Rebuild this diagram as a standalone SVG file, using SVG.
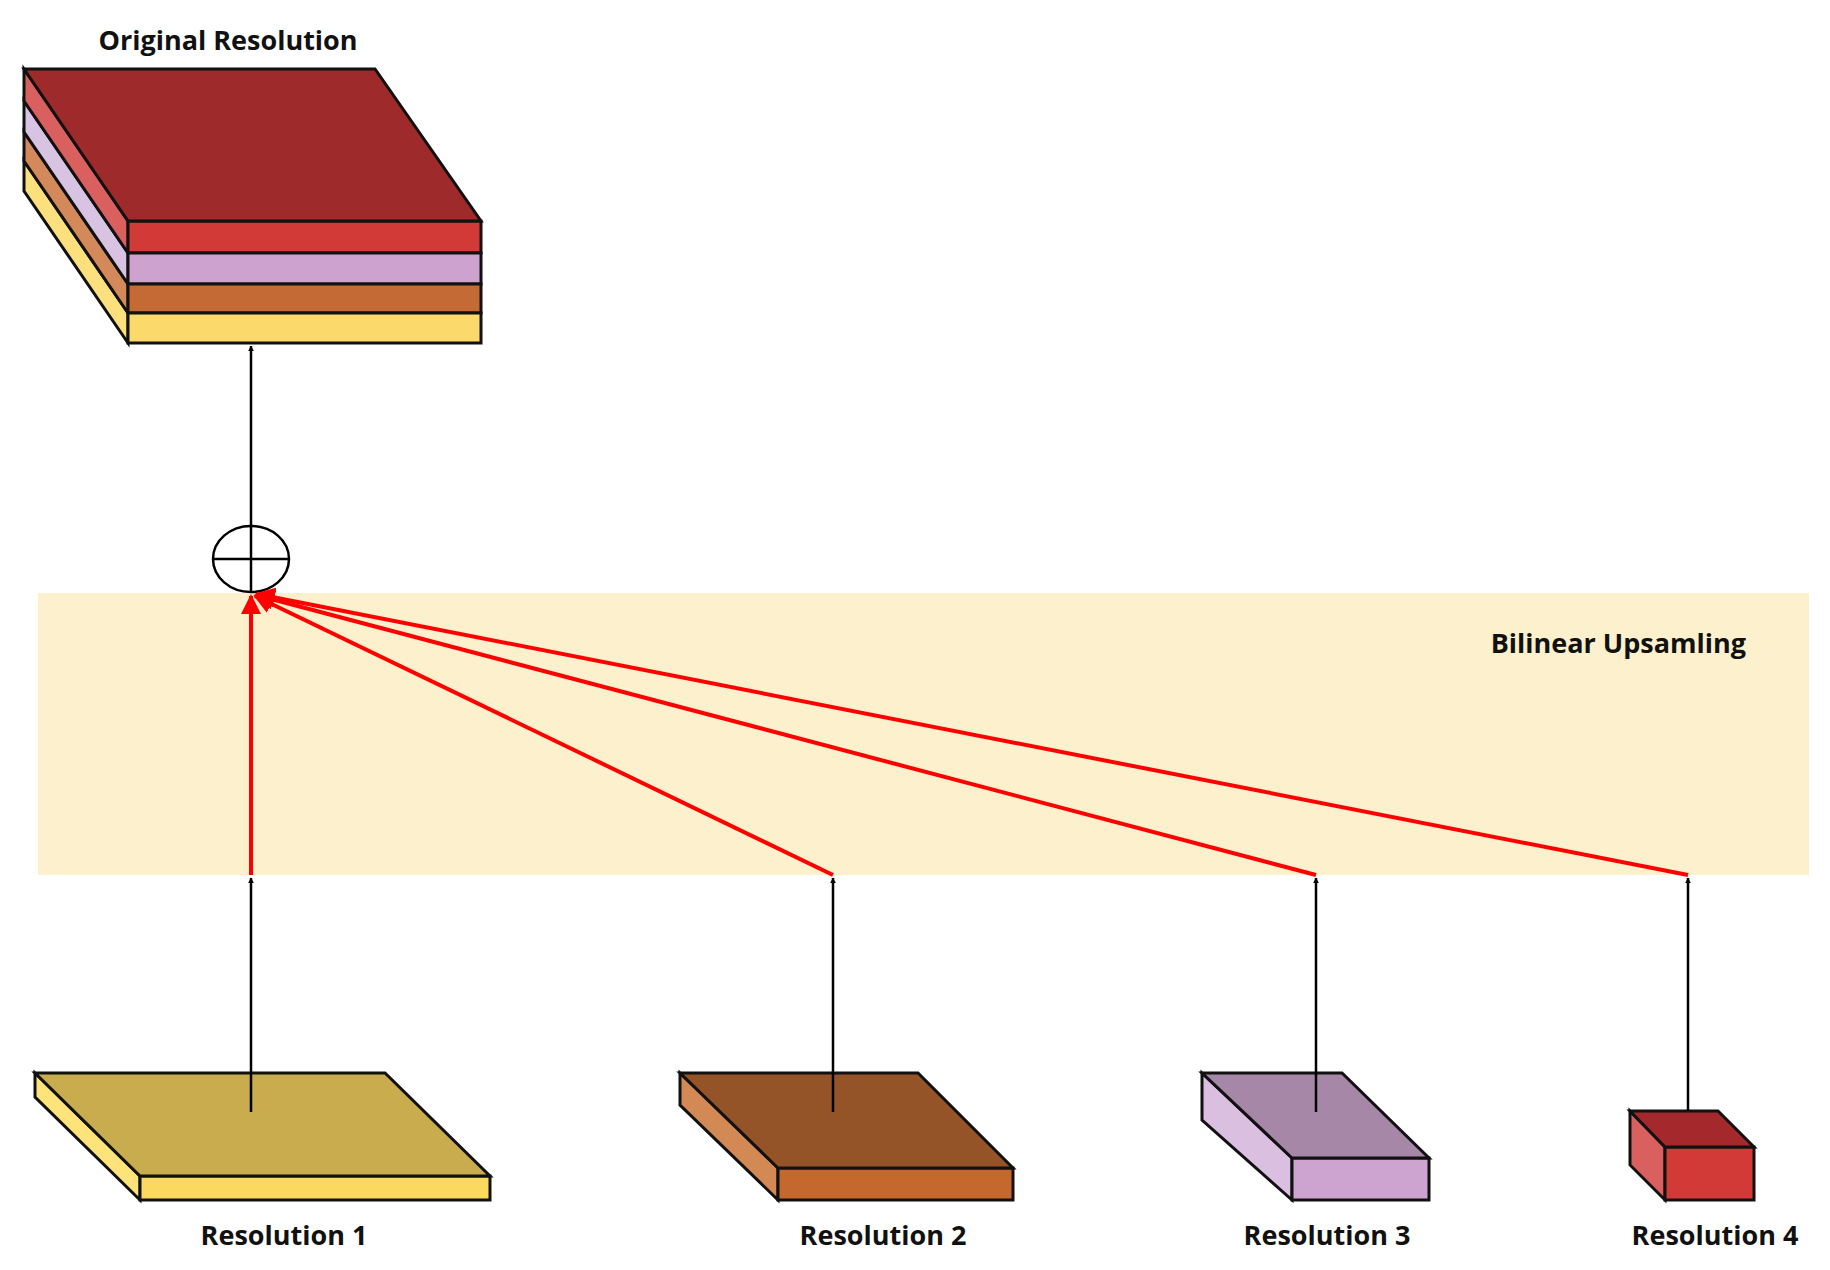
<svg xmlns="http://www.w3.org/2000/svg" width="1830" height="1270" viewBox="0 0 1830 1270">
<style>
.s{stroke:#111;stroke-width:3;stroke-linejoin:miter}
.t{font-family:"Open Sans","Liberation Sans",sans-serif;font-weight:bold;font-size:27px;fill:#111}
.k{stroke:#000;stroke-width:2.5;fill:none}
.r{stroke:#f00;stroke-width:4;fill:none}
</style>
<defs>
<marker id="ab" viewBox="0 0 10 10" refX="9" refY="5" markerWidth="6" markerHeight="6" orient="auto" markerUnits="userSpaceOnUse"><path d="M0,0L10,5L0,10z" fill="#000"/></marker>
<marker id="ar" viewBox="0 0 10 10" refX="9" refY="5" markerWidth="5" markerHeight="5" orient="auto"><path d="M0,0L10,5L0,10z" fill="#f00"/></marker>
</defs>
<rect x="38" y="593" width="1771" height="282" fill="#fdf0cc"/>
<text class="t" x="1746" y="653" text-anchor="end">Bilinear Upsamling</text>
<g id="original">
<text class="t" x="228" y="50" text-anchor="middle">Original Resolution</text>
<polygon class="s" fill="#fbe07d" points="24,161 128,313 128,343 24,191"/>
<polygon class="s" fill="#d4895a" points="24,132 128,284 128,313 24,161"/>
<polygon class="s" fill="#d8c3e2" points="24,101 128,253 128,284 24,132"/>
<polygon class="s" fill="#d9605f" points="24,69 128,221 128,253 24,101"/>
<rect class="s" x="128" y="221" width="353" height="32" fill="#d13a37"/>
<rect class="s" x="128" y="253" width="353" height="31" fill="#cda2cf"/>
<rect class="s" x="128" y="284" width="353" height="29" fill="#c46a34"/>
<rect class="s" x="128" y="313" width="353" height="30" fill="#fbd96a"/>
<polygon class="s" fill="#9e2a2b" points="24,69 375,69 481,221 128,221"/>
</g>
<g id="sum">
<ellipse cx="251" cy="559" rx="38" ry="33" fill="#fff" stroke="#000" stroke-width="2.5"/>
<line x1="213" y1="559" x2="289" y2="559" stroke="#000" stroke-width="2.5"/>
<line x1="251" y1="526" x2="251" y2="592" stroke="#000" stroke-width="2.5"/>
</g>
<g id="res1">
<polygon class="s" fill="#fde37a" points="35,1073 140,1176 140,1200 35,1097"/>
<rect class="s" x="140" y="1176" width="350" height="24" fill="#fbd85e"/>
<polygon class="s" fill="#c8ac4e" points="35,1073 385,1073 490,1176 140,1176"/>
<text class="t" x="284" y="1245" text-anchor="middle">Resolution 1</text>
</g>
<g id="res2">
<polygon class="s" fill="#d38954" points="680,1073 778,1168 778,1200 680,1105"/>
<rect class="s" x="778" y="1168" width="235" height="32" fill="#c4682e"/>
<polygon class="s" fill="#955428" points="680,1073 918,1073 1013,1168 778,1168"/>
<text class="t" x="883" y="1245" text-anchor="middle">Resolution 2</text>
</g>
<g id="res3">
<polygon class="s" fill="#dbbfe0" points="1202,1073 1292,1158 1292,1200 1202,1120"/>
<rect class="s" x="1292" y="1158" width="137" height="42" fill="#cda3d0"/>
<polygon class="s" fill="#a787a8" points="1202,1073 1342,1073 1429,1158 1292,1158"/>
<text class="t" x="1327" y="1245" text-anchor="middle">Resolution 3</text>
</g>
<g id="res4">
<polygon class="s" fill="#d9605f" points="1630,1111 1665,1147 1665,1200 1630,1165"/>
<rect class="s" x="1665" y="1147" width="89" height="53" fill="#d23a37"/>
<polygon class="s" fill="#a5282c" points="1630,1111 1718,1111 1754,1147 1665,1147"/>
<text class="t" x="1715" y="1245" text-anchor="middle">Resolution 4</text>
</g>
<g id="connectors">
<line class="k" x1="251" y1="526" x2="251" y2="346" marker-end="url(#ab)"/>
<line class="k" x1="251" y1="1112" x2="251" y2="878" marker-end="url(#ab)"/>
<line class="k" x1="833" y1="1112" x2="833" y2="878" marker-end="url(#ab)"/>
<line class="k" x1="1316" y1="1112" x2="1316" y2="878" marker-end="url(#ab)"/>
<line class="k" x1="1688" y1="1111" x2="1688" y2="878" marker-end="url(#ab)"/>
<line class="r" x1="251" y1="875" x2="251" y2="596" marker-end="url(#ar)"/>
<line class="r" x1="833" y1="875" x2="255" y2="596" marker-end="url(#ar)"/>
<line class="r" x1="1316" y1="875" x2="256" y2="595" marker-end="url(#ar)"/>
<line class="r" x1="1688" y1="875" x2="257" y2="594" marker-end="url(#ar)"/>
</g>
</svg>
